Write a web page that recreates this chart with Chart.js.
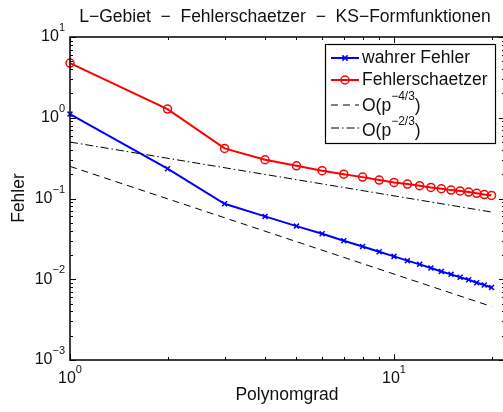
<!DOCTYPE html>
<html>
<head>
<meta charset="utf-8">
<script src="https://cdn.jsdelivr.net/npm/chart.js@4/dist/chart.umd.min.js"></script>
<style>
  html, body { margin: 0; padding: 0; background: #fff; }
  #wrap { width: 503px; height: 412px; }
</style>
</head>
<body>
<div id="wrap"><canvas id="errChart" width="503" height="412"></canvas></div>
<script>
// data
const pValues = [1, 2, 3, 4, 5, 6, 7, 8, 9, 10, 11, 12, 13, 14, 15, 16, 17, 18, 19, 20];
const wahrerFehler = [1.11, 0.234, 0.086, 0.060, 0.0455, 0.0366, 0.030, 0.0255, 0.0219, 0.0192,
  0.0170, 0.0153, 0.0138, 0.0125, 0.0115, 0.0106, 0.00986, 0.00905, 0.00848, 0.00792];
const fehlerschaetzer = [4.76, 1.28, 0.417, 0.302, 0.254, 0.221, 0.200, 0.184, 0.169, 0.158,
  0.151, 0.144, 0.137, 0.132, 0.127, 0.124, 0.120, 0.116, 0.112, 0.109];
const rateX = [1, 20];
const rate43 = [0.25, 0.0046];
const rate23 = [0.5, 0.068];

const xTicks = [1, 10];
const yTicks = [0.001, 0.01, 0.1, 1, 10];

const titleText = 'L\u2212Gebiet  \u2212  Fehlerschaetzer  \u2212  KS\u2212Formfunktionen';
const xLabel = 'Polynomgrad';
const yLabel = 'Fehler';
// [text, superscript, tail]
const legendLabels = [
  ['wahrer Fehler', '', ''],
  ['Fehlerschaetzer', '', ''],
  ['O(p', '\u22124/3', ')'],
  ['O(p', '\u22122/3', ')']
];

const FONT = "'Liberation Sans', Arial, Helvetica, sans-serif";

function pts(xs, ys) {
  return xs.map((x, i) => ({ x: x, y: ys[i] }));
}

function supText(ctx, base, sup, tail, x, y, align, size, supSize, rise) {
  ctx.font = size + 'px ' + FONT;
  const wb = ctx.measureText(base).width;
  const wt = ctx.measureText(tail).width;
  ctx.font = supSize + 'px ' + FONT;
  const ws = ctx.measureText(sup).width;
  const total = wb + ws + wt;
  let x0 = x;
  if (align === 'center') x0 = x - total / 2;
  if (align === 'right') x0 = x - total;
  ctx.textAlign = 'left';
  ctx.textBaseline = 'middle';
  ctx.font = size + 'px ' + FONT;
  ctx.fillText(base, x0, y);
  ctx.font = supSize + 'px ' + FONT;
  ctx.fillText(sup, x0 + wb, y - rise);
  ctx.font = size + 'px ' + FONT;
  ctx.fillText(tail, x0 + wb + ws, y);
}

function logMinors(min, max) {
  const out = [];
  for (let d = Math.floor(Math.log10(min)); d <= Math.ceil(Math.log10(max)); d++) {
    for (let k = 1; k < 10; k++) {
      const v = k * Math.pow(10, d);
      if (v >= min && v <= max) out.push({ v: v, major: k === 1 });
    }
  }
  return out;
}

const matlabAxes = {
  id: 'matlabAxes',
  afterDraw(chart) {
    const ctx = chart.ctx;
    const a = chart.chartArea;
    const xs = chart.scales.x, ys = chart.scales.y;
    // the original's right spine sits just outside the picture
    const rightEdge = a.right + 2;
    ctx.save();
    ctx.strokeStyle = '#000';
    ctx.fillStyle = '#000';
    ctx.lineWidth = 1;

    // ticks (inward, on all four sides)
    ctx.beginPath();
    logMinors(xs.min, xs.max).forEach(t => {
      const px = Math.round(xs.getPixelForValue(t.v)) + 0.5;
      const len = t.major ? 6 : 3;
      ctx.moveTo(px, a.bottom); ctx.lineTo(px, a.bottom - len);
      ctx.moveTo(px, a.top); ctx.lineTo(px, a.top + len);
    });
    logMinors(ys.min, ys.max).forEach(t => {
      const py = Math.round(ys.getPixelForValue(t.v)) + 0.5;
      const len = t.major ? 6 : 3;
      ctx.moveTo(a.left, py); ctx.lineTo(a.left + len, py);
      ctx.moveTo(rightEdge, py); ctx.lineTo(rightEdge - len, py);
    });
    ctx.stroke();

    // box
    ctx.lineWidth = 1.5;
    ctx.strokeRect(a.left, a.top, rightEdge - a.left, a.bottom - a.top);

    // tick labels
    ctx.fillStyle = '#111';
    xTicks.forEach(v => {
      const px = xs.getPixelForValue(v);
      supText(ctx, '10', String(Math.round(Math.log10(v))), '', px, a.bottom + 19, 'center', 16, 11, 9);
    });
    yTicks.forEach(v => {
      const py = ys.getPixelForValue(v);
      const e = Math.round(Math.log10(v));
      supText(ctx, '10', e < 0 ? '\u2212' + (-e) : String(e), '', a.left - 5, py, 'right', 16, 11, 9);
    });

    // title and axis labels
    ctx.textAlign = 'center';
    ctx.textBaseline = 'middle';
    ctx.font = '17.5px ' + FONT;
    ctx.fillText(titleText, 285, 17);
    ctx.fillText(xLabel, 287, 395);
    ctx.save();
    ctx.translate(19, 198);
    ctx.rotate(-Math.PI / 2);
    ctx.fillText(yLabel, 0, 0);
    ctx.restore();

    // legend
    const lx = 325, ly = 44, lw = 170, lh = 99;
    ctx.fillStyle = '#fff';
    ctx.fillRect(lx, ly, lw, lh);
    ctx.lineWidth = 1.2;
    ctx.strokeStyle = '#000';
    ctx.strokeRect(lx + 0.5, ly + 0.5, lw, lh);
    const rowLine = [58, 80, 105, 128];
    const rowText = [58, 80, 106.5, 131.5];
    chart.data.datasets.forEach((ds, i) => {
      const y = rowLine[i];
      ctx.save();
      ctx.strokeStyle = ds.borderColor;
      ctx.lineWidth = ds.borderWidth;
      ctx.setLineDash(ds.borderDash || []);
      ctx.beginPath();
      ctx.moveTo(331, y); ctx.lineTo(359, y);
      ctx.stroke();
      ctx.setLineDash([]);
      if (ds.pointRadius > 0) {
        ctx.lineWidth = ds.pointBorderWidth;
        const r = ds.pointRadius;
        ctx.beginPath();
        if (ds.pointStyle === 'circle') {
          ctx.arc(345, y, r, 0, Math.PI * 2);
        } else {
          const d = r * 0.75;
          ctx.moveTo(345 - d, y - d); ctx.lineTo(345 + d, y + d);
          ctx.moveTo(345 - d, y + d); ctx.lineTo(345 + d, y - d);
        }
        ctx.stroke();
      }
      ctx.restore();
      const lab = legendLabels[i];
      ctx.fillStyle = '#111';
      supText(ctx, lab[0], lab[1], lab[2], 362, rowText[i], 'left', 17.5, 12, 10);
    });
    ctx.restore();
  }
};

new Chart(document.getElementById('errChart').getContext('2d'), {
  type: 'scatter',
  data: {
    datasets: [{
      label: 'wahrer Fehler',
      data: pts(pValues, wahrerFehler),
      showLine: true,
      borderColor: '#0000ff',
      borderWidth: 2,
      pointStyle: 'crossRot',
      pointRadius: 3.5,
      pointBorderWidth: 1.5,
      pointBorderColor: '#0000ff',
      clip: false,
      order: 4
    }, {
      label: 'Fehlerschaetzer',
      data: pts(pValues, fehlerschaetzer),
      showLine: true,
      borderColor: '#ff0000',
      borderWidth: 2,
      pointStyle: 'circle',
      pointRadius: 4,
      pointBorderWidth: 1.5,
      pointBorderColor: '#ff0000',
      pointBackgroundColor: 'rgba(0,0,0,0)',
      clip: false,
      order: 3
    }, {
      label: 'O(p^-4/3)',
      data: pts(rateX, rate43),
      showLine: true,
      borderColor: '#000',
      borderWidth: 1,
      borderDash: [7, 5],
      pointRadius: 0,
      order: 2
    }, {
      label: 'O(p^-2/3)',
      data: pts(rateX, rate23),
      showLine: true,
      borderColor: '#000',
      borderWidth: 1,
      borderDash: [8, 3, 1.5, 3],
      pointRadius: 0,
      order: 1
    }]
  },
  options: {
    responsive: false,
    maintainAspectRatio: false,
    animation: false,
    layout: { autoPadding: false, padding: { left: 70, right: 0, top: 37, bottom: 52 } },
    plugins: {
      legend: { display: false },
      tooltip: { enabled: false }
    },
    scales: {
      x: { type: 'logarithmic', min: 1, max: 21.7, display: false },
      y: { type: 'logarithmic', min: 0.001, max: 10, display: false }
    }
  },
  plugins: [matlabAxes]
});
</script>
</body>
</html>
